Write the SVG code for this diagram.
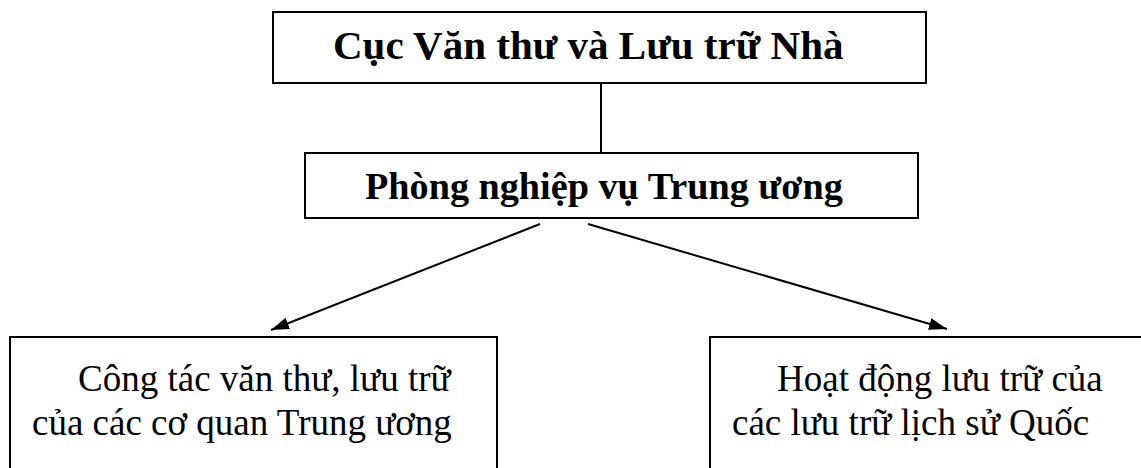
<svg xmlns="http://www.w3.org/2000/svg" width="1141" height="468" viewBox="0 0 1141 468">
<style>
.box{fill:#fff;stroke:#000;stroke-width:2}
.t{font-family:"Liberation Serif","Times New Roman",serif;fill:#000}
.b{font-weight:bold}
.edge{stroke:#000;stroke-width:2;fill:none}
</style>
<defs>
<marker id="arr" viewBox="0 0 18 12" refX="18" refY="6" markerWidth="18" markerHeight="12" markerUnits="userSpaceOnUse" orient="auto">
<path d="M0,0 L18,6 L0,12 z" fill="#000"/>
</marker>
</defs>
<rect width="1141" height="468" fill="#fff"/>
<g id="connectors">
<line class="edge" x1="601" y1="83" x2="601" y2="153"/>
<line class="edge" x1="540" y1="224" x2="271" y2="330" marker-end="url(#arr)"/>
<line class="edge" x1="588" y1="224" x2="947" y2="329" marker-end="url(#arr)"/>
</g>
<g id="node-cuc">
<rect class="box" x="273" y="12" width="653" height="71"/>
<text class="t b" x="333" y="59" font-size="41">Cục Văn thư và Lưu trữ Nhà</text>
</g>
<g id="node-phong">
<rect class="box" x="305" y="153" width="613" height="65"/>
<text class="t b" x="365" y="199" font-size="38.2">Phòng nghiệp vụ Trung ương</text>
</g>
<g id="node-congtac">
<rect class="box" x="10" y="337" width="487" height="150"/>
<text class="t" font-size="37"><tspan x="78" y="391">Công tác văn thư, lưu trữ</tspan><tspan x="32" y="435">của các cơ quan Trung ương</tspan></text>
</g>
<g id="node-hoatdong">
<rect class="box" x="710" y="337" width="450" height="150"/>
<text class="t" font-size="37"><tspan x="777" y="391">Hoạt động lưu trữ của</tspan><tspan x="732" y="435">các lưu trữ lịch sử Quốc</tspan></text>
</g>
</svg>
